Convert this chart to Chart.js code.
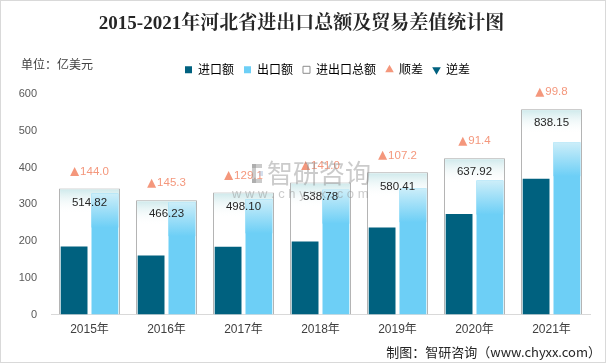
<!DOCTYPE html>
<html>
<head>
<meta charset="utf-8">
<script src="https://cdn.jsdelivr.net/npm/chart.js@4.4.1/dist/chart.umd.min.js"></script>
<style>
html,body{margin:0;padding:0;background:#fff}
#wrap{position:relative;width:606px;height:363px;box-sizing:border-box;border:1px solid #d9d9d9;background:#fff}
</style>
</head>
<body>
<div id="wrap"><canvas id="chart" width="604" height="361"></canvas></div>
<script>
// 数据 (亿美元)
const years = ['2015年','2016年','2017年','2018年','2019年','2020年','2021年'];
const importValues = [185.4,160.5,184.5,198.9,236.6,273.3,369.2];
const exportValues = [329.4,305.8,313.6,339.9,343.8,364.7,469.0];
const totalValues = [514.82,466.23,498.10,538.78,580.41,637.92,838.15];
const surplusValues = [144.0,145.3,129.1,141.0,107.2,91.4,99.8];
const yMin = 0, yMax = 600, yStep = 100;
const totalAxisMax = 900;

const IMPORT = '#00617f';
const EXPORT = '#6dcff6';
const SALMON = '#f4977c';
const FONT = '"Liberation Sans", "Noto Sans CJK SC", sans-serif';
const CJK = '"Noto Sans CJK SC", "Liberation Sans", sans-serif';

const legendItems = [
  {text:'进口额', fillStyle:IMPORT, strokeStyle:IMPORT, lineWidth:0, pointStyle:'rect'},
  {text:'出口额', fillStyle:EXPORT, strokeStyle:EXPORT, lineWidth:0, pointStyle:'rect'},
  {text:'进出口总额', fillStyle:'#fff', strokeStyle:'#8c8c8c', lineWidth:1, pointStyle:'rect'},
  {text:'顺差', fillStyle:SALMON, strokeStyle:SALMON, lineWidth:0, pointStyle:'triangle'},
  {text:'逆差', fillStyle:IMPORT, strokeStyle:IMPORT, lineWidth:0, pointStyle:'triangle', rotation:180}
];

// 渐变、数值标签、单位、水印等
const decor = {
  id:'decor',
  afterLayout(chart){
    chart.legend.left += 23; chart.legend.right += 23;
    chart.titleBlock.left -= 3; chart.titleBlock.right -= 3;
  },
  afterDatasetDraw(chart, args){
    const ctx = chart.ctx;
    ctx.save();
    if(args.index === 2){
      for(const el of args.meta.data){
        const x0 = el.x - el.width/2 + 1, y0 = el.y + 1;
        const g = ctx.createLinearGradient(0, y0, 0, y0 + 24);
        g.addColorStop(0, '#d0eaec'); g.addColorStop(1, 'rgba(255,255,255,0)');
        ctx.fillStyle = g; ctx.fillRect(x0, y0, el.width - 2, 24);
      }
    }
    if(args.index === 1){
      for(const el of args.meta.data){
        const x0 = el.x - el.width/2, y0 = el.y;
        const g = ctx.createLinearGradient(0, y0, 0, y0 + 34);
        g.addColorStop(0, '#cdeef9'); g.addColorStop(1, EXPORT);
        ctx.fillStyle = g; ctx.fillRect(x0, y0, el.width, 34);
      }
    }
    ctx.restore();
  },
  afterDatasetsDraw(chart){
    const ctx = chart.ctx;
    ctx.save();
    ctx.textBaseline = 'middle';
    chart.getDatasetMeta(2).data.forEach((el, i) => {
      ctx.font = '11.5px ' + FONT;
      ctx.fillStyle = '#262626';
      ctx.textAlign = 'center';
      ctx.fillText(totalValues[i].toFixed(2), el.x, el.y + 14);
      const txt = surplusValues[i].toFixed(1);
      const tw = ctx.measureText(txt).width, triW = 9, gap = 1;
      const sx = el.x - (triW + gap + tw)/2, cy = el.y - 17;
      ctx.fillStyle = SALMON;
      ctx.beginPath();
      ctx.moveTo(sx, cy + 4.5); ctx.lineTo(sx + triW/2, cy - 4.5); ctx.lineTo(sx + triW, cy + 4.5);
      ctx.closePath(); ctx.fill();
      ctx.textAlign = 'left';
      ctx.fillText(txt, sx + triW + gap, cy);
    });
    ctx.restore();
  },
  afterDraw(chart){
    const ctx = chart.ctx;
    ctx.save();
    ctx.textBaseline = 'middle';
    ctx.fillStyle = '#404040';
    ctx.font = '12px ' + CJK;
    ctx.textAlign = 'left';
    ctx.fillText('单位：亿美元', 20, 63);
    ctx.fillStyle = '#262626';
    ctx.font = '13px ' + CJK;
    ctx.textAlign = 'right';
    ctx.fillText('制图：智研咨询（www.chyxx.com）', 600, 351);
    // 水印
    ctx.globalAlpha = 0.45;
    ctx.fillStyle = '#8c8c8c';
    ctx.fillRect(251, 163, 4, 19); ctx.fillRect(251, 163, 10, 4); ctx.fillRect(251, 178, 10, 4);
    ctx.fillStyle = '#9fb8d8';
    ctx.fillRect(258, 170, 4, 5);
    ctx.fillStyle = '#8c8c8c';
    ctx.font = '26px ' + CJK;
    ctx.textAlign = 'left';
    ctx.fillText('智研咨询', 266, 172);
    ctx.font = '13px ' + FONT;
    ctx.fillText('w w w . c h y x x . c o m', 231, 193);
    ctx.restore();
  }
};

new Chart(document.getElementById('chart'), {
  type:'bar',
  data:{
    labels: years,
    datasets:[
      {label:'进口额', data:importValues, backgroundColor:IMPORT, order:1,
       categoryPercentage:0.8, barPercentage:0.87},
      {label:'出口额', data:exportValues, backgroundColor:EXPORT, order:1,
       categoryPercentage:0.8, barPercentage:0.87},
      {label:'进出口总额', data:totalValues, yAxisID:'y2', order:2, grouped:false,
       backgroundColor:'#fff', borderColor:'#a6a6a6', borderWidth:1,
       categoryPercentage:0.79, barPercentage:1}
    ]
  },
  options:{
    responsive:false,
    animation:false,
    layout:{padding:{left:18, right:15, top:0, bottom:17}},
    plugins:{
      title:{display:true, text:'2015-2021年河北省进出口总额及贸易差值统计图', color:'#262626',
        font:{size:19, weight:'bold', family:'"Liberation Serif", "Noto Serif CJK SC", "Noto Sans CJK SC", serif'},
        padding:{top:12, bottom:18}},
      subtitle:{display:true, text:'', weight:500, font:{size:1}, padding:{top:7, bottom:0}},
      legend:{position:'top', labels:{usePointStyle:true, boxWidth:7, boxHeight:7, padding:10,
        color:'#404040', font:{size:12, family:CJK},
        generateLabels:() => legendItems.map((it, i) => Object.assign({hidden:false, datasetIndex:i, rotation:0}, it))}},
      tooltip:{enabled:false}
    },
    scales:{
      x:{grid:{display:false, drawTicks:false}, border:{display:true, color:'#d9d9d9'},
        ticks:{color:'#404040', padding:8, font:{size:12, family:FONT}}},
      y:{min:yMin, max:yMax, grid:{display:false, drawTicks:false}, border:{display:false},
        ticks:{stepSize:yStep, color:'#595959', padding:14, font:{size:11, family:FONT}},
        afterFit:s => { s.width = 32; }},
      y2:{display:false, min:0, max:totalAxisMax}
    }
  },
  plugins:[decor]
});
</script>
</body>
</html>
